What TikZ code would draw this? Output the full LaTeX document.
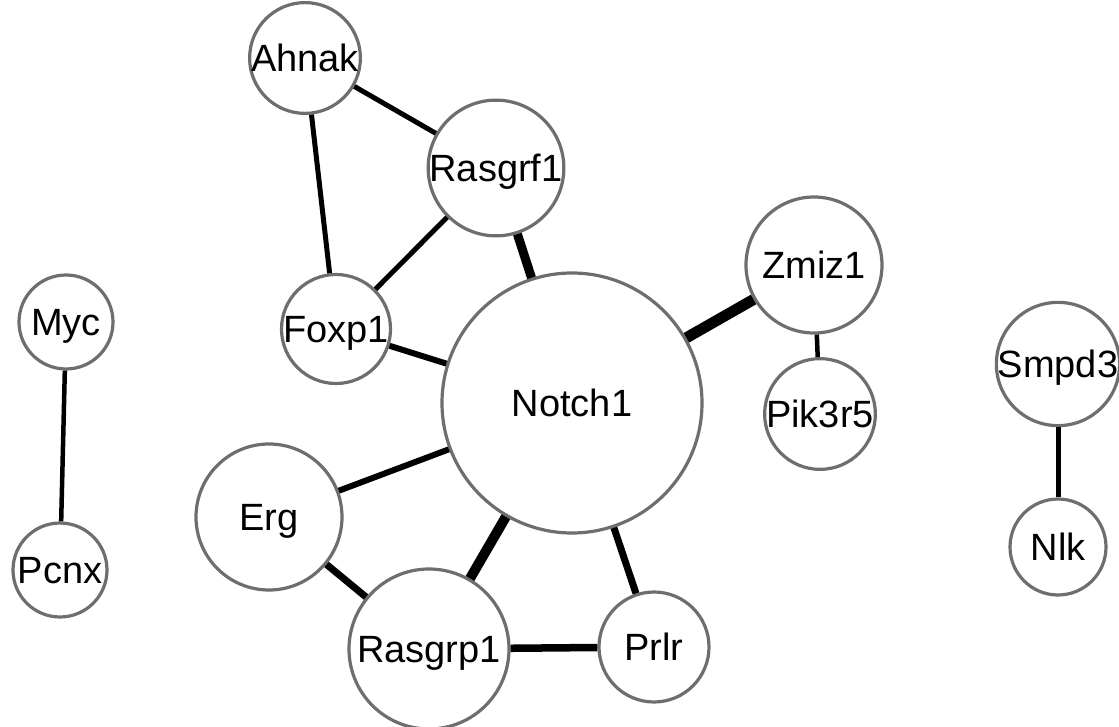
\documentclass[tikz,border=0pt]{standalone}
\usepackage{fontspec}
\setmainfont{Liberation Sans}
\definecolor{ringgray}{RGB}{110,110,110}
\tikzset{
  gene/.style={circle, draw=ringgray, line width=3.2pt, fill=white, inner sep=0pt,
    font=\fontsize{38}{44}\selectfont, text height=27pt, text depth=0pt},
  link/.style={draw=black, line width=#1},
  link/.default=5pt
}
\begin{document}
\begin{tikzpicture}[x=1pt,y=-1pt]
\useasboundingbox (0,0) rectangle (1119,727);
\node[gene, minimum size=84pt]  (ahnak)   at (305,58)   {Ahnak};
\node[gene, minimum size=120pt] (rasgrf1) at (496,168)  {Rasgrf1};
\node[gene, minimum size=108pt] (foxp1)   at (336,329)  {Foxp1};
\node[gene, minimum size=260pt] (notch1)  at (572,403)  {Notch1};
\node[gene, minimum size=136pt] (zmiz1)   at (814,265)  {Zmiz1};
\node[gene, minimum size=94pt]  (pik3r5)  at (820,414)  {Pik3r5};
\node[gene, minimum size=94pt]  (myc)     at (66,322)   {Myc};
\node[gene, minimum size=94pt]  (pcnx)    at (60,570)   {Pcnx};
\node[gene, minimum size=146pt] (erg)     at (269,517)  {Erg};
\node[gene, minimum size=160pt] (rasgrp1) at (429,649)  {Rasgrp1};
\node[gene, minimum size=110pt] (prlr)    at (654,647)  {Prlr};
\node[gene, minimum size=94pt]  (smpd3)   at (1058,364) {Smpd3};
\node[gene, minimum size=96pt]  (nlk)     at (1058,547) {Nlk};

\draw[link=5pt]  (ahnak) -- (rasgrf1);
\draw[link=5pt]  (ahnak) -- (foxp1);
\draw[link=5pt]  (rasgrf1) -- (foxp1);
\draw[link=9pt]  (rasgrf1) -- (notch1);
\draw[link=6pt]  (foxp1) -- (notch1);
\draw[link=11pt] (zmiz1) -- (notch1);
\draw[link=4.5pt](zmiz1) -- (pik3r5);
\draw[link=6pt]  (erg) -- (notch1);
\draw[link=7pt]  (erg) -- (rasgrp1);
\draw[link=10pt] (rasgrp1) -- (notch1);
\draw[link=7pt]  (notch1) -- (prlr);
\draw[link=7.5pt](rasgrp1) -- (prlr);
\draw[link=4.5pt](myc) -- (pcnx);
\draw[link=5pt]  (smpd3) -- (nlk);
\end{tikzpicture}
\end{document}
